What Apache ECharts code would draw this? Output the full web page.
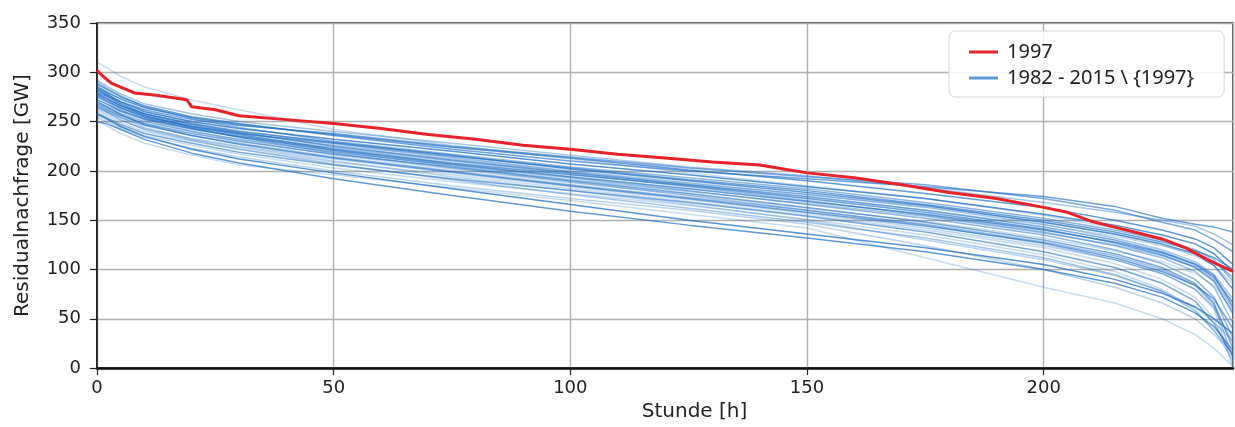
<!DOCTYPE html>
<html>
<head>
<meta charset="utf-8">
<script src="https://cdn.jsdelivr.net/npm/echarts@6/dist/echarts.min.js"></script>
<style>
  html, body { margin: 0; padding: 0; background: #fff; }
  #chart { width: 1235px; height: 427px; }
</style>
</head>
<body>
<div id="chart"></div>
<script>
const hours = [0, 2, 5, 10, 20, 30, 50, 75, 100, 125, 150, 175, 200, 215, 225, 232, 236, 240];
const hours1997 = [0, 1, 3, 6, 8, 12, 18, 19, 20, 25, 30, 40, 50, 60, 70, 80, 90, 100, 110, 120,
  130, 140, 145, 150, 160, 170, 180, 190, 200, 205, 210, 215, 220, 225, 230, 235, 240];
const load1997 = [302, 297, 289, 283, 279, 277, 273, 272, 265, 262, 256, 252, 248, 243, 237, 232, 226, 222, 217, 213,
  209, 206, 202, 198, 193, 186, 178, 172, 163, 158, 149, 143, 137, 131, 122, 109, 98];

// 1982 - 2015 ohne 1997
const otherYears = [
  [310, 305, 296, 285, 272, 262, 242, 226, 212, 198, 185, 172, 155, 142, 130, 118, 108, 92],
  [288, 283, 275, 266, 255, 248, 236, 222, 210, 200, 192, 184, 174, 164, 152, 146, 143, 138],
  [280, 276, 270, 262, 252, 246, 238, 225, 214, 203, 194, 186, 172, 160, 148, 140, 130, 118],
  [292, 286, 278, 268, 258, 250, 240, 228, 216, 204, 195, 183, 168, 158, 150, 144, 136, 125],
  [285, 280, 273, 264, 254, 247, 237, 224, 213, 201, 190, 177, 163, 150, 140, 131, 122, 105],
  [283, 278, 270, 260, 250, 243, 232, 220, 207, 196, 184, 172, 156, 145, 135, 126, 116, 98],
  [290, 284, 276, 265, 253, 244, 230, 217, 204, 193, 182, 168, 152, 140, 130, 120, 110, 88],
  [278, 273, 266, 258, 248, 240, 229, 216, 202, 190, 178, 165, 148, 136, 126, 116, 104, 80],
  [286, 279, 269, 257, 246, 238, 226, 214, 200, 188, 176, 163, 146, 132, 120, 108, 95, 70],
  [276, 271, 264, 255, 245, 238, 228, 215, 203, 191, 180, 166, 150, 138, 128, 119, 112, 100],
  [282, 276, 268, 258, 247, 239, 225, 211, 198, 186, 174, 160, 143, 130, 118, 106, 94, 62],
  [274, 270, 263, 254, 244, 236, 224, 212, 199, 187, 176, 164, 148, 136, 125, 114, 104, 85],
  [279, 274, 266, 256, 245, 237, 222, 208, 196, 185, 172, 158, 141, 127, 115, 102, 88, 55],
  [270, 266, 260, 252, 242, 235, 223, 210, 197, 184, 170, 155, 138, 124, 112, 98, 82, 45],
  [287, 281, 272, 261, 249, 241, 228, 213, 199, 186, 173, 160, 145, 134, 124, 116, 108, 92],
  [272, 268, 261, 253, 243, 235, 221, 207, 194, 182, 169, 156, 140, 128, 117, 105, 92, 66],
  [268, 264, 258, 250, 240, 232, 219, 206, 193, 180, 166, 152, 135, 120, 106, 90, 72, 30],
  [284, 277, 267, 256, 244, 234, 220, 205, 191, 179, 167, 154, 137, 125, 114, 103, 90, 60],
  [266, 262, 256, 248, 238, 230, 217, 204, 190, 177, 163, 148, 130, 116, 102, 86, 66, 20],
  [275, 270, 262, 252, 240, 231, 216, 202, 188, 176, 162, 149, 132, 119, 108, 96, 84, 58],
  [264, 260, 254, 246, 236, 228, 214, 200, 186, 173, 160, 146, 128, 114, 100, 84, 64, 10],
  [262, 258, 251, 243, 233, 225, 212, 198, 184, 171, 157, 142, 124, 110, 96, 80, 60, 0],
  [270, 265, 257, 247, 236, 227, 213, 199, 185, 172, 158, 144, 127, 112, 98, 84, 70, 40],
  [260, 256, 249, 240, 230, 222, 209, 196, 182, 169, 155, 140, 122, 106, 90, 72, 50, 5],
  [277, 272, 264, 254, 243, 234, 218, 203, 189, 175, 160, 145, 126, 110, 96, 80, 62, 25],
  [258, 254, 247, 238, 228, 219, 206, 192, 180, 168, 154, 138, 118, 102, 86, 68, 45, 12],
  [256, 252, 245, 236, 226, 217, 203, 189, 177, 165, 151, 135, 115, 98, 80, 60, 38, 8],
  [265, 260, 252, 242, 231, 222, 207, 191, 176, 162, 148, 132, 112, 95, 78, 58, 38, 15],
  [254, 250, 243, 234, 223, 214, 200, 185, 172, 160, 146, 124, 100, 82, 66, 50, 34, 15],
  [258, 253, 245, 235, 222, 212, 198, 182, 166, 150, 136, 122, 105, 90, 76, 62, 50, 35],
  [250, 248, 242, 232, 218, 208, 192, 175, 159, 145, 132, 118, 100, 86, 72, 56, 42, 18],
  [250, 246, 238, 228, 216, 206, 196, 183, 170, 156, 142, 112, 82, 66, 50, 34, 20, 2],
  [268, 262, 254, 244, 232, 224, 210, 194, 180, 166, 150, 130, 110, 94, 78, 62, 46, 28]
];
const lineAlpha = [0.25, 0.65, 0.6, 0.4, 0.7, 0.75, 0.5, 0.7, 0.4, 0.65, 0.6, 0.3, 0.65, 0.45, 0.25, 0.7, 0.5,
  0.4, 0.6, 0.25, 0.45, 0.3, 0.65, 0.25, 0.4, 0.6, 0.25, 0.4, 0.3, 0.75, 0.7, 0.25, 0.3];

const xTicks = [0, 50, 100, 150, 200];
const yTicks = [0, 50, 100, 150, 200, 250, 300, 350];

const name1997 = '1997';
const nameOther = '1982 - 2015 \\ {1997}';

const chart = echarts.init(document.getElementById('chart'));

const series = otherYears.map((vals, i) => ({
  name: nameOther,
  type: 'line',
  silent: true,
  showSymbol: false,
  symbol: 'none',
  lineStyle: { color: `rgba(31, 111, 197, ${lineAlpha[i]})`, width: 1.5 },
  data: vals.map((v, j) => [hours[j], v])
}));

series.push({
  name: name1997,
  type: 'line',
  silent: true,
  showSymbol: false,
  symbol: 'none',
  z: 5,
  lineStyle: { color: '#e8222a', width: 3 },
  data: load1997.map((v, j) => [hours1997[j], v])
});

const tickFont = { fontFamily: 'DejaVu Sans', fontSize: 18, color: '#222' };
const nameFont = { fontFamily: 'DejaVu Sans', fontSize: 20, color: '#222' };

chart.setOption({
  animation: false,
  grid: {
    left: 97, right: 2, top: 23, bottom: 58,
    show: true, borderColor: '#222', borderWidth: 1.5
  },
  legend: {
    orient: 'vertical',
    left: 949,
    top: 31,
    padding: [11, 30, 9, 20],
    itemGap: 6,
    itemWidth: 29,
    itemHeight: 3,
    icon: 'rect',
    backgroundColor: 'rgba(255,255,255,0.85)',
    borderColor: '#d4d4d4',
    borderWidth: 1,
    borderRadius: 6,
    textStyle: { fontFamily: 'Noto Sans', fontSize: 20, color: '#222', lineHeight: 20, padding: [0, 0, 0, 4] },
    data: [
      { name: name1997, itemStyle: { color: '#e8222a' } },
      { name: nameOther, itemStyle: { color: '#5b9bd5' } }
    ]
  },
  xAxis: {
    type: 'value',
    min: 0,
    max: 240,
    interval: 50,
    name: 'Stunde [h]',
    nameLocation: 'middle',
    nameGap: 33,
    nameTextStyle: Object.assign({ padding: [0, 0, 0, 59] }, nameFont),
    axisLine: { onZero: false, lineStyle: { color: '#111', width: 2.5 } },
    axisTick: { show: true, length: 7, lineStyle: { color: '#222', width: 1.2 } },
    axisLabel: Object.assign({
      margin: 11,
      showMaxLabel: false,
      formatter: v => (xTicks.indexOf(v) >= 0 ? String(v) : '')
    }, tickFont),
    splitLine: { show: true, lineStyle: { color: '#b0b0b0', width: 1.4 } }
  },
  yAxis: {
    type: 'value',
    min: 0,
    max: 350,
    interval: 50,
    name: 'Residualnachfrage [GW]',
    nameLocation: 'middle',
    nameGap: 64,
    nameTextStyle: nameFont,
    axisLine: { show: true, lineStyle: { color: '#111', width: 1.5 } },
    axisTick: { show: true, length: 7, lineStyle: { color: '#222', width: 1.2 } },
    axisLabel: Object.assign({
      margin: 16,
      formatter: v => (yTicks.indexOf(v) >= 0 ? String(v) : '')
    }, tickFont),
    splitLine: { show: true, lineStyle: { color: '#b0b0b0', width: 1.4 } }
  },
  series: series
});
</script>
</body>
</html>
